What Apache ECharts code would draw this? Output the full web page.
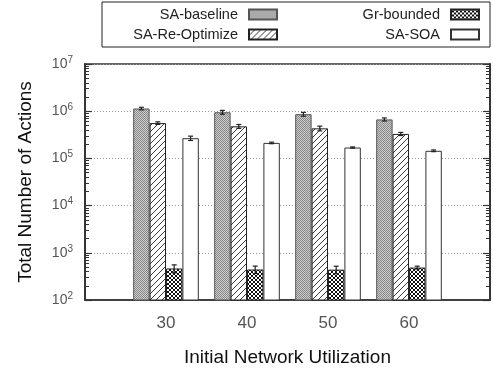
<!DOCTYPE html>
<html>
<head>
<meta charset="utf-8">
<script src="https://cdn.jsdelivr.net/npm/echarts@6/dist/echarts.min.js"></script>
<style>
  html, body { margin: 0; padding: 0; background: #fff; }
  #chart { width: 493px; height: 372px; }
</style>
</head>
<body>
<div id="chart"></div>
<script>
// utilisation levels on the x axis
let categories = ['30', '40', '50', '60'];

// total number of actions per method
let baseline = [1140000, 950000, 865000, 670000];
let reOptimize = [560000, 478000, 433000, 330000];
let grBounded = [465, 443, 440, 487];
let soa = [268000, 213000, 170000, 145000];

// half size of the error bars
let baselineErr = [70000, 90000, 80000, 50000];
let reOptimizeErr = [35000, 45000, 50000, 25000];
let grBoundedErr = [90, 80, 80, 35];
let soaErr = [28000, 8000, 5000, 6000];

let font = 'Liberation Sans, Arial, Helvetica, sans-serif';
let barW = 16.4;

// small canvas fills for the gnuplot style patterns
function pattern(size, draw) {
    let c = document.createElement('canvas');
    c.width = c.height = size;
    let ctx = c.getContext('2d');
    draw(ctx);
    return { image: c, repeat: 'repeat' };
}

let fillBaseline = pattern(2, ctx => {
    ctx.fillStyle = '#d0d0d0';
    ctx.fillRect(0, 0, 2, 2);
    ctx.fillStyle = '#858585';
    ctx.fillRect(0, 0, 1, 1);
    ctx.fillRect(1, 1, 1, 1);
});
let fillReOpt = pattern(6, ctx => {
    ctx.fillStyle = '#fff';
    ctx.fillRect(0, 0, 6, 6);
    ctx.strokeStyle = '#222';
    ctx.lineWidth = 0.9;
    ctx.beginPath();
    ctx.moveTo(-1, 7);
    ctx.lineTo(7, -1);
    ctx.stroke();
});
let fillGr = pattern(4, ctx => {
    ctx.fillStyle = '#fff';
    ctx.fillRect(0, 0, 4, 4);
    ctx.fillStyle = '#111';
    for (let i = 0; i < 4; i++) {
        ctx.fillRect(i, i, 1, 1);
        ctx.fillRect(i, 3 - i, 1, 1);
    }
});

let axisData = [''].concat(categories, ['']);
function pad(arr) {
    return ['-'].concat(arr, ['-']);
}
function errData(vals, errs) {
    return vals.map((v, i) => [i + 1, v - errs[i], v + errs[i]]);
}

// error bars drawn next to each bar of the group
function errorSeries(name, vals, errs, idx) {
    let offset = (idx - 1.5) * barW;
    return {
        name: name + '-err',
        type: 'custom',
        z: 5,
        data: errData(vals, errs),
        encode: { x: 0, y: [1, 2] },
        renderItem: (params, api) => {
            let lo = api.coord([api.value(0), api.value(1)]);
            let hi = api.coord([api.value(0), api.value(2)]);
            let x = lo[0] + offset;
            let style = { stroke: '#222', lineWidth: 1.2 };
            return {
                type: 'group',
                children: [
                    { type: 'line', shape: { x1: x, y1: lo[1], x2: x, y2: hi[1] }, style: style },
                    { type: 'line', shape: { x1: x - 2.5, y1: lo[1], x2: x + 2.5, y2: lo[1] }, style: style },
                    { type: 'line', shape: { x1: x - 2.5, y1: hi[1], x2: x + 2.5, y2: hi[1] }, style: style }
                ]
            };
        }
    };
}

function barSeries(name, vals, color, border) {
    return {
        name: name,
        type: 'bar',
        barWidth: barW,
        barGap: '0%',
        data: pad(vals),
        itemStyle: { color: color, borderColor: border, borderWidth: 1 }
    };
}

function legendItem(name, right, top) {
    return {
        data: [{ name: name, icon: 'rect' }],
        right: right,
        top: top,
        align: 'right',
        padding: 0,
        itemWidth: 28,
        itemHeight: 10,
        selectedMode: false,
        textStyle: { fontFamily: font, fontSize: 14.5, color: '#222', padding: [0, 6, 0, 0] }
    };
}

// minor tick positions on the log scale (2..9 per decade)
let minorTicks = [];
for (let d = 100; d < 1e7; d *= 10) {
    for (let k = 2; k <= 9; k++) minorTicks.push(d * k);
}
let majorTicks = [100, 1000, 10000, 100000, 1000000, 10000000];

function logAxis(position, opts) {
    return Object.assign({
        type: 'log',
        logBase: 10,
        min: 100,
        max: 10000000,
        position: position,
        axisLine: { show: true, lineStyle: { color: '#333', width: 1.5 } },
        axisLabel: { show: false },
        axisTick: { show: false },
        splitLine: { show: false }
    }, opts);
}

let chart = echarts.init(document.getElementById('chart'));
chart.setOption({
    animation: false,
    grid: {
        left: 85, right: 2, top: 64, bottom: 70,
        show: true, borderColor: '#333', borderWidth: 1.5
    },
    graphic: [{
        type: 'rect',
        shape: { x: 102, y: 2, width: 388, height: 45 },
        style: { fill: 'none', stroke: '#222', lineWidth: 1 }
    }],
    legend: [
        legendItem('SA-baseline', 215, 7),
        legendItem('SA-Re-Optimize', 215, 27),
        legendItem('Gr-bounded', 13, 7),
        legendItem('SA-SOA', 13, 27)
    ],
    xAxis: {
        type: 'category',
        data: axisData,
        boundaryGap: false,
        name: 'Initial Network Utilization',
        nameLocation: 'middle',
        nameGap: 48,
        nameTextStyle: { fontFamily: font, fontSize: 19, color: '#111' },
        axisLine: { show: true, lineStyle: { color: '#333', width: 1.5 } },
        axisTick: { show: false },
        axisLabel: { fontFamily: font, fontSize: 17, color: '#555', margin: 15, interval: 0 }
    },
    yAxis: [
        logAxis('left', {
            name: 'Total Number of Actions',
            nameLocation: 'middle',
            nameGap: 50,
            nameTextStyle: { fontFamily: font, fontSize: 19, color: '#111' },
            axisLabel: {
                show: true,
                margin: 12,
                fontFamily: font,
                fontSize: 14,
                color: '#555',
                formatter: v => '10{s|' + Math.round(Math.log10(v)) + '}',
                rich: { s: { fontFamily: font, fontSize: 10, color: '#555', padding: [0, 0, 8, 0] } }
            },
            axisTick: { show: true, inside: true, length: 7, customValues: majorTicks, lineStyle: { color: '#333', width: 1.2 } },
            splitLine: { show: true, lineStyle: { color: '#999', type: [1, 2], width: 1 } }
        }),
        logAxis('left', {
            axisTick: { show: true, inside: true, length: 4, customValues: minorTicks, lineStyle: { color: '#333', width: 1 } }
        }),
        logAxis('right', {
            axisTick: { show: true, inside: true, length: 7, customValues: majorTicks, lineStyle: { color: '#333', width: 1.2 } }
        }),
        logAxis('right', {
            axisTick: { show: true, inside: true, length: 4, customValues: minorTicks, lineStyle: { color: '#333', width: 1 } }
        })
    ],
    series: [
        barSeries('SA-baseline', baseline, fillBaseline, '#555'),
        barSeries('SA-Re-Optimize', reOptimize, fillReOpt, '#222'),
        barSeries('Gr-bounded', grBounded, fillGr, '#222'),
        barSeries('SA-SOA', soa, '#fff', '#333'),
        errorSeries('SA-baseline', baseline, baselineErr, 0),
        errorSeries('SA-Re-Optimize', reOptimize, reOptimizeErr, 1),
        errorSeries('Gr-bounded', grBounded, grBoundedErr, 2),
        errorSeries('SA-SOA', soa, soaErr, 3)
    ]
});
</script>
</body>
</html>
